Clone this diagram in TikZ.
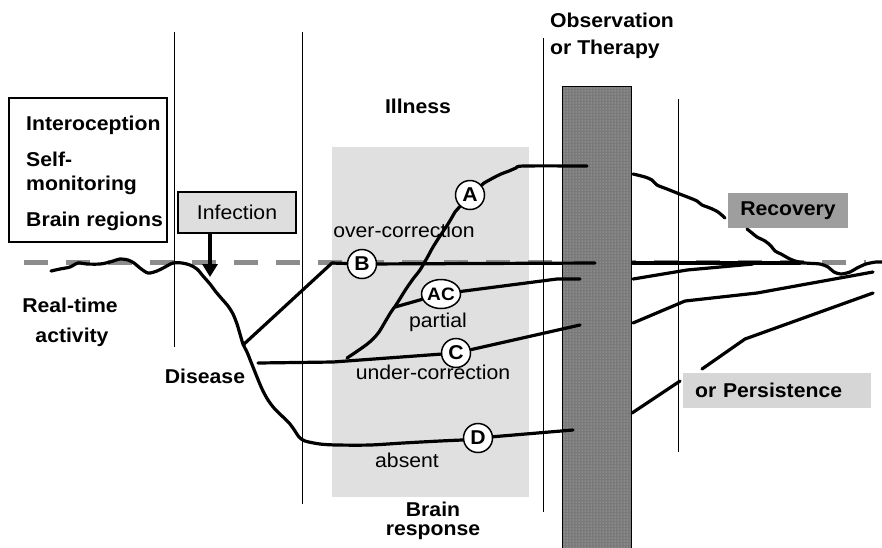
\documentclass[tikz,border=0pt]{standalone}
\usepackage{fontspec}
\setmainfont{Liberation Sans}[FakeStretch=1.06]
\usetikzlibrary{arrows.meta,shapes.geometric,patterns}
\begin{document}
\begin{tikzpicture}[x=1pt, y=-1pt,
  txt/.style={inner sep=0pt, anchor=base, font=\fontsize{20}{24}\selectfont},
  btxt/.style={txt, font=\fontsize{20}{24}\selectfont\bfseries},
  curve/.style={line width=3.2pt, line join=round, line cap=round},
  rule/.style={line width=0.8pt},
  letter/.style={circle, draw, line width=1.5pt, fill=white, inner sep=0pt, minimum size=29pt, font=\fontsize{20}{24}\selectfont\bfseries}]
\useasboundingbox (0,0) rectangle (882,547);
\fill[black!12] (332,147) rectangle (529,497);
\draw[black!45, line width=5pt, dash pattern=on 24pt off 18pt] (24,262) -- (866,262);
\draw[fill=black!52, line width=1pt] (562,86) rectangle (631,552);
\fill[pattern=dots, pattern color=black!20] (563,87) rectangle (630,552);
\foreach \x/\a/\b in {174/32/347, 302/32/504, 543/38/512, 678/99/452}
  \draw[rule] (\x,\a) -- (\x,\b);
\draw[line width=1.2pt] (9,98) rectangle (167,242);
\node[btxt, anchor=base west] (intero) at (26,130) {Interoception};
\node[btxt, anchor=base west] (self) at (26,166) {Self-};
\node[btxt, anchor=base west] (monit) at (26,190) {monitoring};
\node[btxt, anchor=base west] (regions) at (26,226) {Brain regions};
\node[btxt] (real) at (70,312) {Real-time};
\node[btxt] (activ) at (72,342) {activity};
\node[btxt] (disease) at (205,383) {Disease};
\node[btxt] (illness) at (418,113) {Illness};
\node[btxt, anchor=base west] (obs) at (550,27) {Observation};
\node[btxt, anchor=base west] (ther) at (550,54) {or Therapy};
\node[btxt] (brain) at (433,516) {Brain};
\node[btxt] (resp) at (433,535) {response};
\node[txt] (over) at (404,237) {over-correction};
\node[txt] (partial) at (438,327) {partial};
\node[txt] (under) at (433,379) {under-correction};
\node[txt] (absent) at (407,467) {absent};
\node[draw, fill=black!13, line width=1.2pt, minimum width=118pt, minimum height=41pt, inner sep=0pt, font=\fontsize{20}{24}\selectfont] (infect) at (237,212.5) {Infection};
\coordinate (hit) at (210,277);
\draw[line width=4.5pt, -{Triangle[length=13pt,width=15pt]}] (infect.south -| hit) -- (hit);
\node[letter] (cA) at (470,195) {A};
\node[letter] (cB) at (362,264) {B};
\node[letter, ellipse, minimum width=38pt, minimum height=29pt, font=\fontsize{18}{22}\selectfont\bfseries] (cAC) at (441,294) {AC};
\node[letter] (cC) at (456,353) {C};
\node[letter] (cD) at (478,438) {D};
\draw[curve] plot[smooth] coordinates {(51,271) (60,269) (70,267) (78,263) (87,264) (100,264) (110,262) (120,259) (128,260) (134,263) (140,268) (148,273) (157,271) (165,267) (173,263) (182,263) (190,265) (197,269) (203,276) (210,284) (216,292) (222,299) (228,306) (233,314) (237,324) (240,334) (243,344) (247,352) (251,362) (255,372) (259,382) (263,391) (268,400) (274,408) (282,416) (290,424) (295,431) (299,437) (305,441) (320,444) (337,445) (370,445) (403,443) (440,441) (462,440)} -- (cD);
\draw[curve] (cD) -- (573,430);
\draw[curve] (243,345) -- (332,263) -- (cB);
\draw[curve] (cB) -- (595,263);
\draw[curve] (258,363) -- (333,362) -- (cC);
\draw[curve] (cC) -- (580,325);
\draw[curve] plot[smooth] coordinates {(347,358) (356,352) (366,345) (373,339) (379,332) (385,322) (391,312) (396,305) (401,297) (406,289) (413,279) (420,270) (427,258) (433,247) (440,236) (448,224) (455,212)} -- (cA);
\draw[curve] (cA) -- (484,183);
\draw[curve] plot[smooth] coordinates {(484,183) (493,178) (501,174) (509,171) (516,168) (524,166) (587,166)};
\draw[curve] (395,307) -- (cAC);
\draw[curve] (cAC) -- (557,279) -- (580,279);
\node[fill=black!38, minimum width=120pt, minimum height=35pt, inner sep=0pt, font=\fontsize{20}{24}\selectfont\bfseries] (recov) at (788,210.5) {Recovery};
\node[fill=black!16, anchor=west, minimum height=35pt, text width=164pt, inner xsep=12pt, align=left, font=\fontsize{20}{24}\selectfont\bfseries] (persist) at (683,390.5) {or Persistence};
\draw[curve] (633,263) -- (800,263);
\draw[curve] (633,279) -- (687,270) -- (753,264);
\draw[curve] (633,323) -- (685,301) -- (757,293) -- (873,272);
\draw[curve] (632,413) -- (680,381);
\draw[curve] (702,369) -- (745,339) -- (873,293);
\draw[curve] plot[smooth] coordinates {(633,174) (645,177) (652,180) (657,185) (667,189) (677,193) (690,198) (697,201) (702,205) (710,208) (718,212) (725,218)};
\draw[curve] plot[smooth] coordinates {(747,229) (752,233) (757,237) (765,241) (771,246) (775,251) (781,254) (788,258) (795,261) (805,263) (820,264) (828,267) (834,272) (841,274) (850,272) (857,268) (866,264) (876,262) (882,262)};
\end{tikzpicture}
\end{document}
